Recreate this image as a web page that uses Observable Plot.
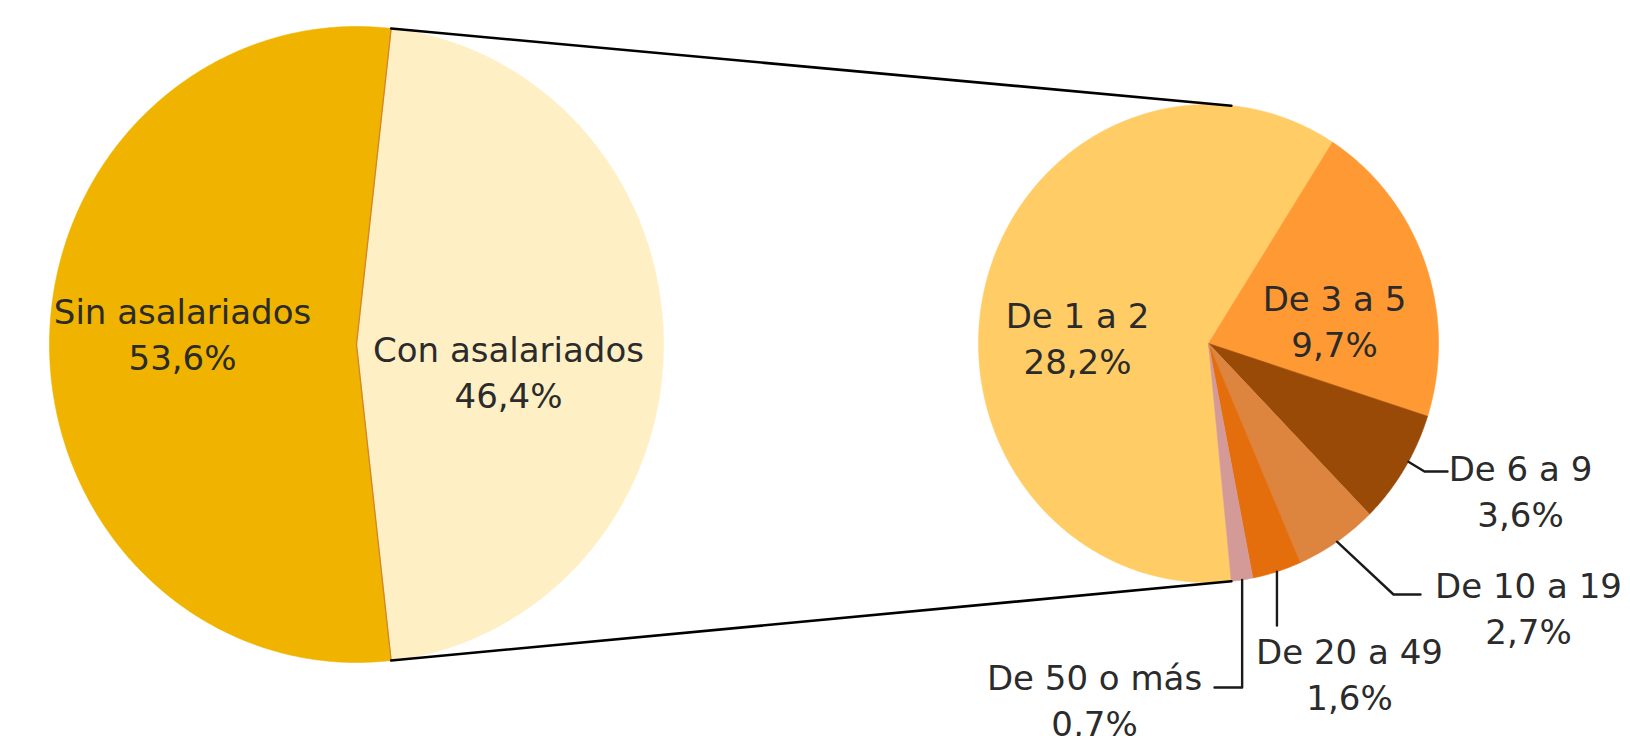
<!DOCTYPE html>
<html><head><meta charset="utf-8">
<script src="https://cdn.jsdelivr.net/npm/d3@7"></script>
<script src="https://cdn.jsdelivr.net/npm/@observablehq/plot@0.6"></script>
<style>html,body{margin:0;padding:0;background:#fff;overflow:hidden}</style>
</head><body><div id="chart"></div>
<script>
// ---- data ----
const mainCategories = ["Con asalariados", "Sin asalariados"];
const mainValues = [46.4, 53.6];
const mainColors = ["#FFEFC4", "#EFB300"];

const subCategories = ["De 1 a 2", "De 3 a 5", "De 6 a 9", "De 10 a 19", "De 20 a 49", "De 50 o más"];
const subValues = [28.2, 9.7, 3.6, 2.7, 1.6, 0.7];
const subColors = ["#FFCC66", "#FF9933", "#994A06", "#DD853F", "#E56E0C", "#D39A98"];

// ---- layout ----
const W = 1630, H = 736;
const pie1 = {cx: 356, cy: 344, rx: 307, ry: 318};
const pie2 = {cx: 1208, cy: 343, rx: 230, ry: 239};
const deg = Math.PI / 180;
const fmt = v => v.toFixed(1).replace(".", ",") + "%";

const pt = (p, a, r = 1) => ({x: p.cx + p.rx * r * Math.sin(a), y: p.cy - p.ry * r * Math.cos(a)});
function poly(p, a0, a1) {
  const n = Math.max(4, Math.ceil((a1 - a0) / (0.4 * deg)));
  const pts = [{x: p.cx, y: p.cy}];
  for (let i = 0; i <= n; i++) pts.push(pt(p, a0 + (a1 - a0) * i / n));
  pts.push({x: p.cx, y: p.cy});
  return pts;
}

// main pie: "Con" slice centred on 3 o'clock
const total1 = d3.sum(mainValues);
const start1 = Math.PI / 2 - Math.PI * mainValues[0] / total1;
const arcs1 = d3.pie().sort(null).startAngle(start1).endAngle(start1 + 2 * Math.PI)(mainValues);
// sub pie
const start2 = 174.3 * deg;
const arcs2 = d3.pie().sort(null).startAngle(start2).endAngle(start2 + 2 * Math.PI)(subValues);

const sliceMarks = [];
arcs1.forEach((a, i) => sliceMarks.push(Plot.line(poly(pie1, a.startAngle, a.endAngle),
  {x: "x", y: "y", fill: mainColors[i], stroke: mainColors[i], strokeWidth: 0.6})));
arcs2.forEach((a, i) => sliceMarks.push(Plot.line(poly(pie2, a.startAngle, a.endAngle),
  {x: "x", y: "y", fill: subColors[i], stroke: subColors[i], strokeWidth: 0.6})));

// boundary between main slices
const b1 = [pt(pie1, arcs1[0].startAngle), {x: pie1.cx, y: pie1.cy}, pt(pie1, arcs1[0].endAngle)];

// connectors between pies
const connTop = [pt(pie1, arcs1[0].startAngle), pt(pie2, Math.PI - start2)];
const connBot = [pt(pie1, arcs1[0].endAngle), pt(pie2, start2)];

// label positions (block centres)
const labelPos1 = [[508, 370], [182, 332]];
const labelPos2 = [[1077, 336], [1334, 319], [1520, 489], [1528, 606], [1349, 672], [1094, 698]];
const labels = [
  ...mainCategories.map((c, i) => ({x: labelPos1[i][0], y: labelPos1[i][1], t: c + "\n" + fmt(mainValues[i])})),
  ...subCategories.map((c, i) => ({x: labelPos2[i][0], y: labelPos2[i][1], t: c + "\n" + fmt(subValues[i])}))
];

// leader lines for small slices
const mid = i => (arcs2[i].startAngle + arcs2[i].endAngle) / 2;
const leaders = [];
{
  const e = pt(pie2, mid(2) - 2 * deg, 1.0);
  leaders.push([e, {x: 1424, y: 471}, {x: 1447, y: 471}]);
}
{
  const e = pt(pie2, mid(3), 1.0);
  leaders.push([e, {x: 1393, y: 594}, {x: 1420, y: 594}]);
}
{
  const e = pt(pie2, mid(4), 1.0);
  leaders.push([e, {x: e.x, y: 625}]);
}
{
  const e = pt(pie2, mid(5), 1.0);
  leaders.push([e, {x: e.x, y: 687}, {x: 1214, y: 687}]);
}

const chart = Plot.plot({
  width: W, height: H, margin: 0,
  x: {domain: [0, W], range: [0, W], axis: null},
  y: {domain: [0, H], range: [0, H], axis: null},
  style: {background: "#fff"},
  marks: [
    ...sliceMarks,
    Plot.line(b1, {x: "x", y: "y", stroke: "#D4842A", strokeWidth: 1.3}),
    Plot.line(connTop, {x: "x", y: "y", stroke: "#000", strokeWidth: 2.6}),
    Plot.line(connBot, {x: "x", y: "y", stroke: "#000", strokeWidth: 2.6}),
    ...leaders.map(l => Plot.line(l, {x: "x", y: "y", stroke: "#1a1a1a", strokeWidth: 2.4})),
    Plot.text(labels, {x: "x", y: "y", text: "t", fontSize: 34, lineHeight: 1.35,
      fill: "#2b2b2b", fontFamily: "DejaVu Sans", textAnchor: "middle", lineAnchor: "middle"})
  ]
});
document.getElementById("chart").appendChild(chart);
</script>
</body></html>
